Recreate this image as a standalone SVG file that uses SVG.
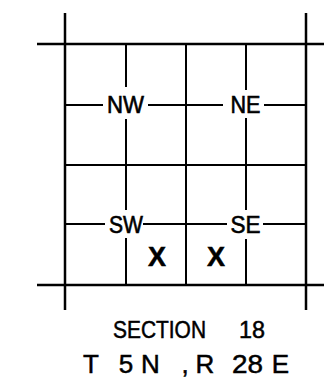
<svg xmlns="http://www.w3.org/2000/svg" width="324" height="380" viewBox="0 0 324 380">
<style>
.frame{stroke:#000;stroke-width:2.5;fill:none}
.grid{stroke:#000;stroke-width:2;fill:none}
.lbl{font-family:"Liberation Sans",Arial,sans-serif;font-size:23px;fill:#000;stroke:#000;stroke-width:0.6;text-anchor:middle}
.x{font-family:"Liberation Sans",Arial,sans-serif;font-size:27px;font-weight:bold;fill:#000;stroke:#000;stroke-width:0.5;text-anchor:middle}
.cap{font-family:"Liberation Sans",Arial,sans-serif;fill:#000;stroke:#000;stroke-width:0.5;text-anchor:middle}
</style>
<rect width="324" height="380" fill="#fff"/>
<g id="connectors">
<line class="frame" x1="37" y1="44" x2="324" y2="44"/>
<line class="frame" x1="37" y1="285" x2="324" y2="285"/>
<line class="frame" x1="65" y1="13" x2="65" y2="310"/>
<line class="frame" x1="306" y1="13" x2="306" y2="310"/>
<line class="grid" x1="65" y1="165" x2="306" y2="165"/>
<line class="grid" x1="186" y1="44" x2="186" y2="285"/>
<path class="grid" d="M126 44V87M126 119V210M126 238V285"/>
<path class="grid" d="M246 44V90M246 118V210M246 239V285"/>
<path class="grid" d="M65 105H103M148 105H223M264 105H306"/>
<path class="grid" d="M65 224H105M143 224H227M263 224H306"/>
</g>
<g id="NW"><text class="lbl" x="125.5" y="113" textLength="37" lengthAdjust="spacingAndGlyphs">NW</text></g>
<g id="NE"><text class="lbl" x="245.5" y="113" textLength="30" lengthAdjust="spacingAndGlyphs">NE</text></g>
<g id="SW"><text class="lbl" x="126" y="233" textLength="34" lengthAdjust="spacingAndGlyphs">SW</text></g>
<g id="SE"><text class="lbl" x="245.5" y="233" textLength="30" lengthAdjust="spacingAndGlyphs">SE</text></g>
<g id="marks">
<text class="x" x="157" y="265.5">X</text>
<text class="x" x="216" y="265.5">X</text>
</g>
<g id="caption">
<text class="cap" font-size="23.5" x="159.5" y="338" textLength="93" lengthAdjust="spacingAndGlyphs">SECTION</text>
<text class="cap" font-size="23.5" x="252" y="338" textLength="26" lengthAdjust="spacingAndGlyphs">18</text>
<text class="cap" font-size="26" x="91" y="373">T</text>
<text class="cap" font-size="26" x="126" y="373">5</text>
<text class="cap" font-size="26" x="150.5" y="373">N</text>
<text class="cap" font-size="26" x="185" y="373">,</text>
<text class="cap" font-size="26" x="205" y="373">R</text>
<text class="cap" font-size="26" x="247.5" y="373" textLength="31" lengthAdjust="spacingAndGlyphs">28</text>
<text class="cap" font-size="26" x="280.5" y="373">E</text>
</g>
</svg>
